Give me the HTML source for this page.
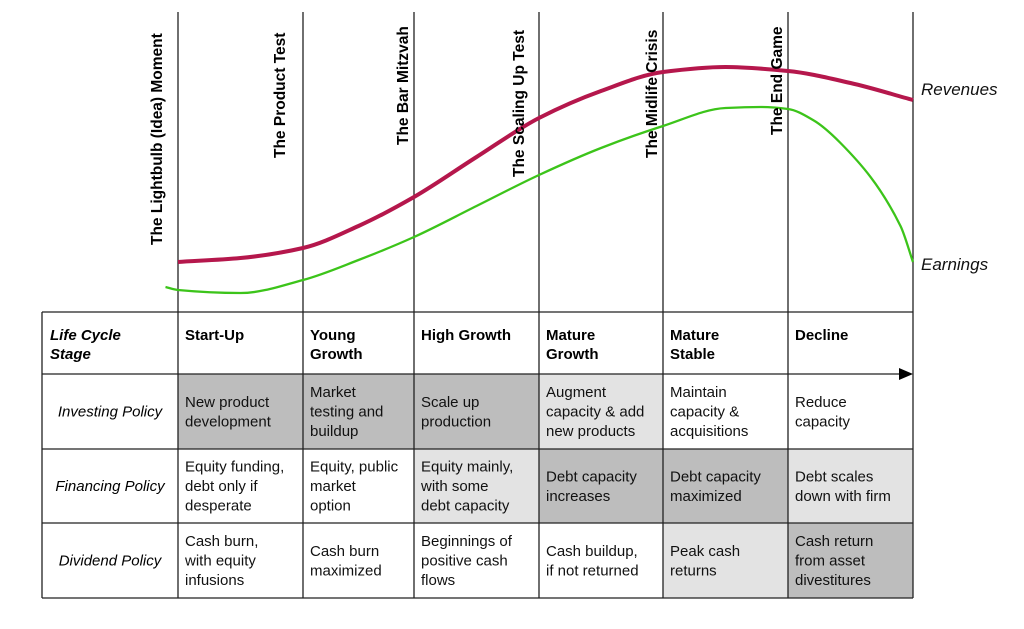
<!DOCTYPE html>
<html><head><meta charset="utf-8"><style>
html,body{margin:0;padding:0;background:#fff;}
svg{display:block;font-family:"Liberation Sans",Arial,sans-serif;}
</style></head><body>
<svg id="chart" width="1024" height="629" viewBox="0 0 1024 629" xmlns="http://www.w3.org/2000/svg">
<g id="cells"></g>
<g id="grid"></g>
<g id="curves"></g>
<g id="labels"></g>
</svg>
<script>
const NS='http://www.w3.org/2000/svg';
// stage positions (0..6 = stage boundaries) and curve values (arbitrary units, higher = up)
const revStage=[0,0.5,1,1.5,2,2.5,3,3.5,4,4.5,5,5.5,6];
const revVals=[38,42,52,74,103,143,182,209,228,233,229,217,200];
const earnStage=[-0.1,0,0.5,1,1.5,2,2.5,3,3.5,4,4.5,4.78,5,5.2,5.42,5.9,6];
const earnVals=[13,10,7,20,40,63,94,125,152,174,192,193,191,180,157,74,38];
const milestones=['The Lightbulb (Idea) Moment','The Product Test','The Bar Mitzvah','The Scaling Up Test','The Midlife Crisis','The End Game'];
const stages=[['Start-Up'],['Young','Growth'],['High Growth'],['Mature','Growth'],['Mature','Stable'],['Decline']];
const rowNames=['Investing Policy','Financing Policy','Dividend Policy'];
const cellText=[
 [['New product','development'],['Market','testing and','buildup'],['Scale up','production'],['Augment','capacity & add','new products'],['Maintain','capacity &','acquisitions'],['Reduce','capacity']],
 [['Equity funding,','debt only if','desperate'],['Equity, public','market','option'],['Equity mainly,','with some','debt capacity'],['Debt capacity','increases'],['Debt capacity','maximized'],['Debt scales','down with firm']],
 [['Cash burn,','with equity','infusions'],['Cash burn','maximized'],['Beginnings of','positive cash','flows'],['Cash buildup,','if not returned'],['Peak cash','returns'],['Cash return','from asset','divestitures']]
];
const shade=[[2,2,2,1,0,0],[0,0,1,2,2,1],[0,0,0,0,1,2]];
const fills=['#ffffff','#e3e3e3','#bdbdbd'];
const colX=[42,178,303,414,539,663,788,913];
const rowY=[312,374,449,523,598];
function sx(s){
 let i=Math.floor(s);if(i<0)i=0;if(i>5)i=5;
 const a=colX[i+1],b=colX[i+2];
 return a+(s-i)*(b-a);
}
function sy(v){return 300-v;}
function mk(tag,attrs,parent){const e=document.createElementNS(NS,tag);for(const k in attrs)e.setAttribute(k,attrs[k]);parent.appendChild(e);return e;}
const cells=document.getElementById('cells'),grid=document.getElementById('grid'),curves=document.getElementById('curves'),labels=document.getElementById('labels');
for(let r=0;r<3;r++)for(let c=0;c<6;c++){
 const rc=mk('rect',{x:colX[c+1],y:rowY[r+1],width:colX[c+2]-colX[c+1],height:rowY[r+2]-rowY[r+1],fill:fills[shade[r][c]]},cells);
 
 
}
for(let i=0;i<7;i++){
 const x=sx(i);
 const l=mk('line',{x1:x,y1:12,x2:x,y2:598,stroke:'#222','stroke-width':1.3},grid);
 
 
}
mk('line',{x1:42,y1:312,x2:42,y2:598,stroke:'#222','stroke-width':1.3},grid);
for(let j=0;j<rowY.length;j++){
 const x2=j===1?900:913;
 const l=mk('line',{x1:42,y1:rowY[j],x2:x2,y2:rowY[j],stroke:'#222','stroke-width':1.3},grid);
 
 
}
const ah=mk('polygon',{points:'899,368 913,374 899,380',fill:'#000'},grid);


function pathFrom(xs,vs){
 const X=xs.map(s=>s<0?colX[1]+s*125:sx(s)), Y=vs.map(sy), n=X.length;
 const d=[],m=new Array(n).fill(0);
 for(let i=0;i<n-1;i++)d.push((Y[i+1]-Y[i])/(X[i+1]-X[i]));
 m[0]=d[0];m[n-1]=d[n-2];
 for(let i=1;i<n-1;i++){
  if(d[i-1]*d[i]<=0)m[i]=0;
  else{const h0=X[i]-X[i-1],h1=X[i+1]-X[i];const w1=2*h1+h0,w2=h1+2*h0;m[i]=(w1+w2)/(w1/d[i-1]+w2/d[i]);}
 }
 let p='M'+X[0]+','+Y[0];
 for(let i=0;i<n-1;i++){
  const h=(X[i+1]-X[i])/3;
  p+=' C'+(X[i]+h)+','+(Y[i]+m[i]*h)+' '+(X[i+1]-h)+','+(Y[i+1]-m[i+1]*h)+' '+X[i+1]+','+Y[i+1];
 }
 return p;
}
const ep=mk('path',{d:pathFrom(earnStage,earnVals),fill:'none',stroke:'#3cc41a','stroke-width':2.3},curves);


const rp=mk('path',{d:pathFrom(revStage,revVals),fill:'none',stroke:'#b5174c','stroke-width':4},curves);


const labPos=[[162,245],[285,158],[408,145],[524,177],[657,158],[782,135]];
milestones.forEach((t,i)=>{
 const tx=mk('text',{x:0,y:0,transform:'translate('+labPos[i][0]+','+labPos[i][1]+') rotate(-90)','font-size':15.5,'font-weight':'bold',fill:'#000'},labels);
 tx.textContent=t;
 
 
});
const rl=mk('text',{x:921,y:95,'font-size':17,'font-style':'italic',fill:'#111'},labels);rl.textContent='Revenues';


const el=mk('text',{x:921,y:270,'font-size':17,'font-style':'italic',fill:'#111'},labels);el.textContent='Earnings';


const hd=mk('text',{x:50,y:340,'font-size':15,'font-weight':'bold','font-style':'italic'},labels);
hd.innerHTML='<tspan x="50" dy="0">Life Cycle</tspan><tspan x="50" dy="19">Stage</tspan>';


stages.forEach((lines,c)=>{
 const t=mk('text',{x:colX[c+1]+7,y:340,'font-size':15,'font-weight':'bold'},labels);
 lines.forEach((ln,k)=>{const ts=mk('tspan',{x:colX[c+1]+7,dy:k?19:0},t);ts.textContent=ln;});
 
 
});
rowNames.forEach((n,r)=>{
 const cy=(rowY[r+1]+rowY[r+2])/2;
 const t=mk('text',{x:110,y:cy+5,'font-size':15,'font-style':'italic','text-anchor':'middle'},labels);
 t.textContent=n;
 
 
});
cellText.forEach((row,r)=>row.forEach((lines,c)=>{
 const cy=(rowY[r+1]+rowY[r+2])/2;
 const y0=cy+5-(lines.length-1)*19.5/2;
 const t=mk('text',{x:colX[c+1]+7,y:y0,'font-size':15,fill:'#111'},labels);
 lines.forEach((ln,k)=>{const ts=mk('tspan',{x:colX[c+1]+7,dy:k?19.5:0},t);ts.textContent=ln;});
 
 
}));
</script>
</body></html>
